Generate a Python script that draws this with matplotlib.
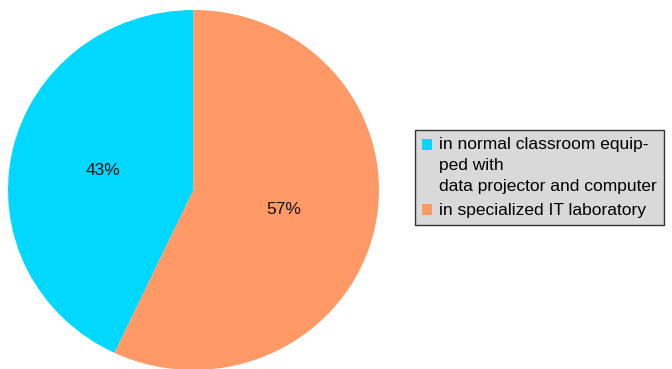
import matplotlib.pyplot as plt
from matplotlib.patches import Rectangle
from matplotlib.legend_handler import HandlerPatch

plt.rcParams['font.family'] = ['Liberation Sans', 'DejaVu Sans']

# data
labels = ['in normal classroom equip-\nped with\ndata projector and computer',
          'in specialized IT laboratory']
shares = [43, 57]
colors = ['#00D8FF', '#FF9966']

LEG_FS = 12.5
LINESP = 1.5


# put the legend square next to the first text line instead of the middle
class TopHandler(HandlerPatch):
    def __init__(self, nlines, **kw):
        super().__init__(**kw)
        self.nlines = nlines

    def create_artists(self, legend, orig_handle, xdescent, ydescent,
                       width, height, fontsize, trans):
        shift = (self.nlines - 1) / 2 * LINESP * 0.8 * fontsize
        p = Rectangle((-xdescent, -ydescent + shift), width, height,
                      facecolor=orig_handle.get_facecolor(), edgecolor='none',
                      transform=trans)
        return [p]


fig = plt.figure(figsize=(6.72, 3.69), dpi=100)
ax = fig.add_axes([8 / 672, -1 / 369, 371 / 672, 360 / 369])
wedges, texts, autotexts = ax.pie(shares, colors=colors, startangle=90,
                                  counterclock=True, autopct='%d%%',
                                  pctdistance=0.5, radius=1,
                                  textprops={'fontsize': 12.5, 'color': '#111111'})
ax.set_aspect('auto')
ax.set_xlim(-1, 1)
ax.set_ylim(-1, 1)

handles = [Rectangle((0, 0), 1, 1, facecolor=c) for c in colors]
leg = fig.legend(handles, labels, loc='upper left',
                 bbox_to_anchor=(415 / 672, 1 - 130 / 369), borderaxespad=0,
                 fontsize=LEG_FS, fancybox=False, framealpha=1,
                 facecolor='#D9D9D9', edgecolor='#333333',
                 handlelength=0.6, handleheight=0.6, handletextpad=0.38,
                 labelspacing=0.55, borderpad=0.4,
                 handler_map={handles[0]: TopHandler(3)})
leg.get_frame().set_linewidth(1)
for t in leg.get_texts():
    t.set_linespacing(LINESP)

plt.savefig('out.png', dpi=100)
